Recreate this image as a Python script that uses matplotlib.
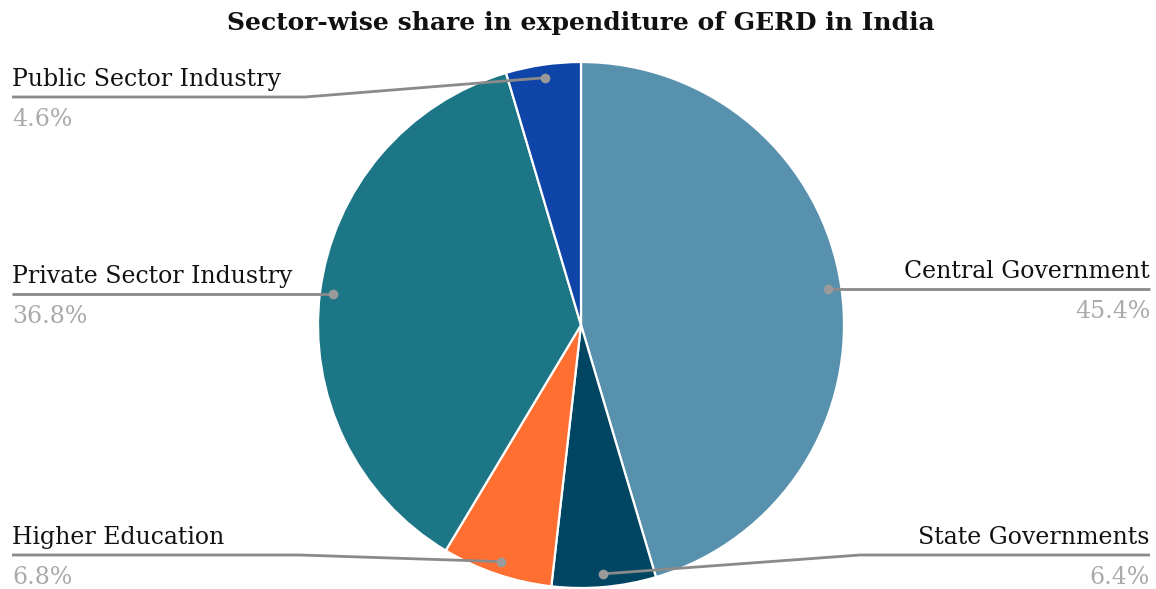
import numpy as np
import matplotlib
matplotlib.use("Agg")
import matplotlib.pyplot as plt

# data
sectors = ["Central Government", "State Governments", "Higher Education",
           "Private Sector Industry", "Public Sector Industry"]
shares = [45.4, 6.4, 6.8, 36.8, 4.6]
colors = ["#5891ad", "#004561", "#ff6f31", "#1c7685", "#0f45a8"]

W, H = 1156, 589
fig = plt.figure(figsize=(W / 100, H / 100), dpi=100)
ax = fig.add_axes([0, 0, 1, 1])

cx, cy, r = 581, H - 325, 263
wedges, _ = ax.pie(shares, colors=colors, startangle=90, counterclock=False,
                   center=(cx, cy), radius=r, frame=True,
                   wedgeprops=dict(edgecolor="white", linewidth=1.6))
ax.set_xlim(0, W)
ax.set_ylim(0, H)
ax.axis("off")

# label layout: side, y of horizontal line (pixels from top), elbow x
layout = {
    "Central Government": ("right", None, None),
    "State Governments": ("right", 555, 860),
    "Higher Education": ("left", 555, 300),
    "Private Sector Industry": ("left", None, None),
    "Public Sector Industry": ("left", 97, 305),
}

line_col = "#8a8a8a"
serif = "DejaVu Serif"
for w, name, val in zip(wedges, sectors, shares):
    mid = np.deg2rad((w.theta1 + w.theta2) / 2)
    px = cx + 0.95 * r * np.cos(mid)
    py = cy + 0.95 * r * np.sin(mid)
    side, ly, ex = layout[name]
    ly = py if ly is None else H - ly
    xend = 1150 if side == "right" else 12
    if ex is None:
        xs, ys = [px, xend], [py, ly]
    else:
        xs, ys = [px, ex, xend], [py, ly, ly]
    ax.plot(xs, ys, color=line_col, lw=2, solid_capstyle="butt", zorder=3)
    ax.plot(px, py, "o", ms=7, color="#9a9a9a", mec="none", zorder=4)
    ha = "right" if side == "right" else "left"
    ax.text(xend, ly + 6, name, ha=ha, va="bottom", fontsize=17,
            family=serif, color="#111111")
    ax.text(xend, ly - 11, f"{val}%", ha=ha, va="top", fontsize=17,
            family=serif, color="#aaaaaa")

fig.text(581 / W, 1 - 23 / H, "Sector-wise share in expenditure of GERD in India",
         ha="center", va="center", fontsize=18, fontweight="bold",
         family=serif, color="#111111")

fig.savefig("out.png", dpi=100, facecolor="white")
